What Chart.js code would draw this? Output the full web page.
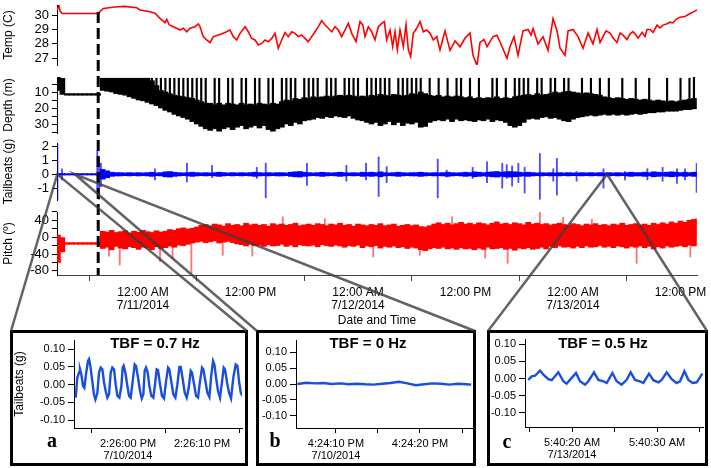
<!DOCTYPE html>
<html>
<head>
<meta charset="utf-8">
<title>Tag record</title>
<script src="https://cdn.jsdelivr.net/npm/chart.js@4.4.1/dist/chart.umd.min.js"></script>
<style>
    body { margin: 0; width: 711px; height: 468px; position: relative; overflow: hidden; background: #fff; font-family: 'Liberation Sans', Arial, sans-serif; }
    canvas { position: absolute; }
    .box { position: absolute; border: 3px solid #000; box-sizing: border-box; }
    .tbf { position: absolute; font-size: 15px; font-weight: bold; transform: translate(-50%, -50%); white-space: nowrap; }
    .tag { position: absolute; font-family: 'Liberation Serif', 'Times New Roman', serif; font-size: 20px; font-weight: bold; transform: translate(-50%, -50%); }
</style>
</head>
<body>
<canvas id="tempChart" width="711" height="70" style="left:0;top:0"></canvas>
<canvas id="depthChart" width="711" height="66" style="left:0;top:72px"></canvas>
<canvas id="tbChart" width="711" height="67" style="left:0;top:138px"></canvas>
<canvas id="pitchChart" width="711" height="123" style="left:0;top:207px"></canvas>

<canvas id="insetA" width="238" height="136" style="left:10px;top:330px"></canvas>
<canvas id="insetB" width="220" height="136" style="left:256px;top:330px"></canvas>
<canvas id="insetC" width="221" height="136" style="left:487px;top:330px"></canvas>
<div class="box" id="boxA" style="left:10px;top:330px;width:238px;height:136px"></div>
<div class="box" id="boxB" style="left:256px;top:330px;width:220px;height:136px"></div>
<div class="box" id="boxC" style="left:487px;top:330px;width:221px;height:136px"></div>
<div class="tbf" style="left:155px;top:342px">TBF = 0.7 Hz</div>
<div class="tbf" style="left:368px;top:342px">TBF = 0 Hz</div>
<div class="tbf" style="left:603px;top:342px">TBF = 0.5 Hz</div>
<div class="tag" style="left:52px;top:440px">a</div>
<div class="tag" style="left:275px;top:440px">b</div>
<div class="tag" style="left:507px;top:441px">c</div>

<canvas id="overlay" width="711" height="468" style="left:0;top:0"></canvas>

<script>
// hours from 12:00 AM 7/11/2014
const xMin = -9.6, xMax = 61.84;
const mainTickHours = [0, 12, 24, 36, 48, 60];
const mainTickLabels = [['12:00 AM', '7/11/2014'], '12:00 PM', ['12:00 AM', '7/12/2014'], '12:00 PM', ['12:00 AM', '7/13/2014'], '12:00 PM'];
const tagOnHour = -5.0;
const tagTemp = 30.2;
const insetHours = [-9.57, -7.6, 51.8];

// temperature (C)
const tempHours = [-9.6, -9.38, -9.27, -9.04, -5.02, -4.43, -3.13, -2.01, -0.7, -0.33, 0.78, 1.34, 1.9, 2.46, 2.65, 2.94, 3.38, 3.76, 4.13, 4.5, 4.88, 5.25, 5.8, 6.17, 6.36, 6.73, 7.11, 7.48, 7.85, 8.41, 8.96, 9.34, 9.71, 10.08, 10.46, 10.83, 11.39, 11.75, 12.13, 12.5, 12.87, 13.25, 13.62, 13.99, 14.37, 14.74, 15.1, 15.48, 15.85, 16.22, 16.6, 16.97, 17.34, 17.72, 18.08, 18.45, 18.83, 19.2, 19.57, 19.95, 20.32, 20.69, 21.07, 21.43, 21.8, 22.18, 22.55, 22.92, 23.3, 23.78, 24.22, 24.53, 24.78, 25.15, 25.53, 25.89, 26.27, 26.65, 26.94, 27.2, 27.57, 27.87, 28.13, 28.39, 28.69, 29.06, 29.36, 29.62, 29.88, 30.17, 30.55, 30.92, 31.29, 31.67, 32.04, 32.41, 32.79, 33.15, 33.71, 34.27, 34.83, 35.39, 35.95, 36.5, 36.84, 37.28, 37.62, 38.07, 38.4, 39.07, 39.52, 40.08, 40.63, 40.97, 41.41, 41.86, 42.42, 42.98, 43.31, 43.54, 44.09, 44.65, 45.21, 45.77, 46.22, 46.55, 47.11, 47.45, 48.0, 48.56, 49.12, 49.68, 50.23, 50.68, 51.02, 51.35, 51.69, 52.13, 52.47, 52.91, 53.25, 53.58, 54.03, 54.37, 54.7, 55.03, 55.26, 55.71, 56.04, 56.26, 56.6, 56.93, 57.38, 57.72, 58.05, 58.5, 58.83, 59.16, 59.5, 59.94, 60.5, 61.06, 61.39, 61.84];
const tempValues = [30.3, 30.7, 30.3, 30.1, 30.1, 30.45, 30.55, 30.6, 30.5, 30.35, 30.23, 30.12, 29.77, 29.47, 29.7, 29.31, 29.19, 29.08, 28.96, 29.08, 28.84, 29.08, 29.19, 29.38, 29.19, 28.5, 28.27, 28.08, 28.5, 28.61, 28.73, 28.84, 28.96, 28.5, 28.27, 28.73, 29.19, 28.84, 28.38, 28.27, 27.92, 28.03, 28.27, 28.15, 28.38, 28.73, 27.69, 28.27, 28.78, 28.5, 28.84, 28.73, 28.5, 28.61, 28.38, 28.15, 28.5, 28.84, 29.19, 29.61, 29.31, 29.08, 28.84, 29.19, 28.96, 28.5, 28.96, 29.42, 28.73, 28.15, 29.54, 29.31, 28.5, 29.19, 28.84, 28.27, 29.19, 29.42, 29.54, 28.27, 28.96, 27.81, 28.84, 27.58, 28.96, 27.81, 29.31, 27.58, 27.11, 28.73, 29.08, 29.54, 28.84, 28.96, 28.73, 28.27, 28.5, 27.58, 28.9, 27.55, 28.2, 27.8, 28.4, 28.75, 27.2, 26.5, 28.1, 28.3, 27.8, 28.5, 28.6, 27.8, 27.0, 27.8, 28.5, 27.2, 28.9, 29.0, 28.6, 29.05, 28.0, 28.5, 27.55, 29.75, 28.9, 27.7, 27.2, 28.9, 29.0, 28.5, 27.7, 28.75, 28.0, 29.0, 28.1, 28.5, 28.9, 28.75, 28.4, 28.1, 28.75, 28.6, 28.3, 28.7, 28.85, 28.6, 28.4, 28.8, 28.5, 29.0, 29.0, 28.8, 29.3, 29.1, 29.3, 29.4, 29.5, 29.45, 29.7, 29.85, 29.9, 30.1, 30.2, 30.35];
const tempTicks = [27, 28, 29, 30];

// depth, pitch and tailbeat ranges, one per half hour from -9.5 h
const bandStart = -9.5, bandStep = 0.5;
const depthTop = [
    0.8, 1.5, 11, 11, 11, 11, 11, 11, 11, 11,
    1.4, 1.4, 1.4, 1.4, 1.4, 1.4, 1.4, 1.4, 1.4, 1.4,
    1.4, 3, 6, 9, 10, 11, 12, 12.5, 13, 13.5,
    14, 15, 16, 17, 17, 18, 17, 18, 17, 17.5,
    18, 17, 18, 17.5, 18, 17, 17.5, 18, 17, 17.5,
    16, 15, 15.5, 14, 14.5, 13.5, 14, 13, 13.5, 13,
    12.5, 13, 12.5, 12, 12.5, 12, 12.5, 13, 12.5, 13,
    12, 12.5, 11.5, 12, 12.5, 11.5, 12, 12.5, 12, 11,
    11.5, 10, 11, 12, 12.5, 12, 13, 12.5, 13, 12.5,
    13, 13.5, 13, 14, 13.5, 14, 13.5, 14, 13, 14,
    13.5, 14, 13, 12.5, 12, 11.5, 12, 11, 12, 11.5,
    11, 10, 10.5, 10, 9.5, 10, 10.5, 11, 10.5, 11,
    11.5, 12, 13, 13.5, 14, 13.5, 14, 14.5, 14, 14.5,
    15, 14.5, 15, 15.5, 15, 15.5, 16, 15.5, 16, 15.5,
    15, 14.5, 14];
const depthBottom = [
    9, 11.5, 12, 12, 12, 12, 12, 12, 12, 12,
    9, 9.5, 10, 11, 11.5, 12, 13, 14, 15, 15.5,
    16.5, 17.5, 18.5, 20, 21.5, 22.5, 24, 25, 26, 27,
    28.5, 30, 31.5, 33, 34, 33, 34.5, 33, 32, 33.5,
    32, 31, 33, 32, 31, 32.5, 31, 33.5, 34.5, 33,
    32, 30, 31, 29, 30, 28, 27.5, 27, 26, 26.5,
    25.5, 26, 25, 25.5, 26, 25, 26.5, 27.5, 28, 29,
    30, 29, 31, 30, 28.5, 30.5, 29, 31, 29.5, 30,
    29, 32, 31.5, 29, 28, 27.5, 28, 27, 28.5, 27,
    28, 27.5, 28, 28.5, 27.5, 28, 27, 28.5, 27.5, 28,
    29, 31, 32, 31, 29, 27, 26.5, 27, 26, 25.5,
    26.5, 26, 27, 28, 28.5, 27, 26, 25.5, 25, 24.5,
    25, 24.5, 24, 24.5, 24, 24.5, 24, 24.5, 24, 23.5,
    24, 23.5, 23, 23, 22.5, 22.5, 22, 22, 22, 21.5,
    21, 21, 20.5];
// shallowest point of quick trips to the surface, null when none
const depthSurface = [
    null, null, null, null, null, null, null, null, null, null,
    null, null, null, null, null, null, null, null, null, null,
    null, 1.4, 1.4, 1.4, 1.4, 1.4, 1.4, 1.4, 1.4, 1.4,
    1.4, 1.4, 1.4, 1.4, null, 1.4, 1.4, null, 1.4, 1.4,
    null, 1.4, 1.4, null, 1.4, 1.4, null, 1.4, 1.4, null,
    1.4, 1.4, 1.4, 1.4, null, 1.4, 1.4, 1.4, 1.4, null,
    1.4, 1.4, 1.4, null, 1.4, 1.4, 1.4, 1.4, null, 1.4,
    1.4, 1.4, 1.4, 1.4, 1.4, null, 1.4, 1.4, 1.4, 1.4,
    1.4, 1.4, null, 1.4, null, 1.4, null, 1.4, null, 1.4,
    1.4, null, 1.4, null, 1.4, null, null, 1.4, 1.4, null,
    1.4, null, 1.4, 1.4, 1.4, 1.4, null, 1.4, 1.4, null,
    1.4, 1.4, null, 1.4, 1.4, null, null, 1.4, null, 1.4,
    null, 1.4, null, 1.4, null, null, 1.4, null, null, 1.4,
    null, null, 1.4, null, null, null, 1.4, null, null, 1.4,
    null, 1.4, 0.8];
const depthTicks = [5, 10, 15, 20, 25, 30, 35];
const depthTickLabels = ['', '10', '', '20', '', '30', ''];

const pitchHigh = [
    5, 0, -13, -13, -13, -13, -13, -13, -13, -13,
    14, 12, 16, 11, 13, 15, 10, 14, 12, 16,
    13, 11, 15, 12, 14, 18, 16, 20, 22, 19,
    21, 24, 28, 30, 27, 31, 29, 26, 32, 28,
    30, 27, 33, 29, 31, 28, 30, 26, 32, 29,
    31, 28, 30, 33, 27, 29, 31, 28, 32, 30,
    27, 31, 29, 33, 28, 30, 26, 31, 29, 27,
    30, 28, 32, 27, 29, 31, 26, 28, 30, 27,
    29, 25, 24, 27, 31, 34, 30, 33, 29, 32,
    35, 31, 33, 30, 34, 32, 29, 33, 36, 31,
    33, 30, 34, 32, 29, 35, 31, 33, 30, 32,
    29, 31, 33, 30, 28, 32, 30, 27, 31, 29,
    32, 28, 30, 27, 31, 29, 33, 28, 30, 32,
    29, 31, 28, 33, 30, 34, 31, 36, 33, 38,
    35, 40, 42];
const pitchLow = [
    -60, -35, -17, -17, -17, -17, -17, -17, -17, -17,
    -27, -24, -30, -22, -26, -28, -23, -25, -29, -24,
    -26, -30, -23, -27, -25, -21, -24, -19, -20, -17,
    -14, -12, -10, -13, -11, -9, -14, -12, -10, -13,
    -16, -18, -21, -17, -20, -19, -22, -18, -21, -20,
    -17, -22, -19, -23, -18, -20, -21, -19, -23, -18,
    -20, -22, -19, -21, -24, -20, -22, -19, -25, -21,
    -23, -20, -26, -22, -24, -21, -25, -23, -27, -24,
    -26, -30, -32, -28, -25, -27, -24, -28, -26, -29,
    -25, -28, -27, -30, -26, -29, -24, -28, -27, -25,
    -29, -27, -31, -26, -28, -25, -29, -27, -24, -28,
    -22, -25, -21, -24, -23, -26, -22, -25, -21, -24,
    -23, -20, -24, -22, -25, -21, -23, -26, -22, -24,
    -21, -25, -22, -28, -23, -26, -21, -24, -22, -20,
    -23, -19, -21];
const pitchSpikeHours = [-3.8, -2.6, 1.9, 3.3, 5.4, 8.9, 12.2, 15.6, 20.3, 25.7, 30.9, 34.5, 38.2, 40.7, 44.3, 46.9, 50.1, 55.1, 61.1, 61.7];
const pitchSpikeValues = [-45, -66, -58, -51, -86, -43, -45, 48, 44, -47, -43, 48, -50, -62, 60, 47, 42, -62, -47, 44];
const pitchTicks = [60, 40, 20, 0, -20, -40, -60, -80];
const pitchTickLabels = ['', '40', '', '0', '', '-40', '', '-80'];

// tailbeat noise half width (g)
const tbNoise = [
    0.05, 0.05, 0.05, 0.05, 0.05, 0.05, 0.05, 0.05, 0.05, 0.05,
    0.35, 0.25, 0.15, 0.12, 0.12, 0.1, 0.12, 0.1, 0.12, 0.1,
    0.12, 0.15, 0.1, 0.12, 0.18, 0.2, 0.15, 0.12, 0.1, 0.12,
    0.15, 0.12, 0.1, 0.12, 0.1, 0.12, 0.15, 0.12, 0.1, 0.12,
    0.1, 0.12, 0.1, 0.12, 0.15, 0.12, 0.1, 0.12, 0.1, 0.12,
    0.12, 0.1, 0.15, 0.18, 0.2, 0.15, 0.12, 0.1, 0.12, 0.15,
    0.12, 0.1, 0.12, 0.15, 0.12, 0.1, 0.12, 0.1, 0.15, 0.12,
    0.15, 0.12, 0.18, 0.12, 0.1, 0.12, 0.15, 0.12, 0.1, 0.12,
    0.12, 0.15, 0.12, 0.1, 0.12, 0.1, 0.12, 0.15, 0.12, 0.1,
    0.12, 0.15, 0.12, 0.18, 0.15, 0.12, 0.15, 0.18, 0.2, 0.15,
    0.18, 0.2, 0.18, 0.15, 0.12, 0.15, 0.12, 0.1, 0.12, 0.1,
    0.12, 0.1, 0.12, 0.1, 0.12, 0.1, 0.1, 0.12, 0.1, 0.12,
    0.1, 0.12, 0.1, 0.12, 0.1, 0.12, 0.1, 0.12, 0.15, 0.12,
    0.12, 0.15, 0.12, 0.18, 0.15, 0.12, 0.15, 0.18, 0.15, 0.12,
    0.15, 0.12, 0.15];
const tbSpikeHours = [-9.55, -9.04, -5.1, -4.9, -4.7, 1.34, 4.9, 7.7, 12.7, 13.7, 18.3, 22.7, 24.9, 26.3, 27.2, 32.9, 33.9, 36.8, 38.4, 40.1, 40.6, 41.2, 41.9, 42.6, 44.3, 45.8, 46.2, 48.4, 51.4, 53.8, 56.3, 58.0, 59.6, 60.5, 61.8];
const tbSpikeUp = [2.2, 0.4, 1.7, 1.2, 0.8, 0.4, 0.8, 0.65, 0.5, 0.8, 0.8, 0.65, 0.8, 1.25, 0.55, 1.1, 0.3, 0.5, 0.9, 0.8, 0.7, 0.6, 0.8, 0.5, 1.5, 0.4, 1.15, 0.2, 0.4, 0.2, 0.4, 0.5, 0.4, 0.4, 0.8];
const tbSpikeDown = [-1.8, -0.4, -1.3, -1.8, -0.9, -0.4, -0.55, -0.25, -0.3, -1.7, -0.8, -0.5, -0.4, -1.6, -0.6, -1.7, -0.2, -0.3, -0.6, -1.0, -0.3, -0.85, -0.6, -1.35, -1.8, -0.5, -1.5, -0.5, -1.0, -0.4, -0.4, -0.5, -0.65, -0.4, -1.3];
const tbTicks = [2, 1, 0, -1];

// zoomed windows, seconds from the labelled time
const insetASec = [-7.07, -6.85, -6.62, -6.49, -6.31, -6.08, -5.9, -5.68, -5.41, -5.27, -5.09, -4.83, -4.6, -4.41, -4.14, -3.92, -3.69, -3.47, -3.24, -3.02, -2.79, -2.57, -2.34, -2.12, -1.89, -1.67, -1.44, -1.17, -0.9, -0.72, -0.59, -0.36, -0.09, 0.14, 0.36, 0.63, 0.9, 1.08, 1.35, 1.62, 1.85, 2.07, 2.25, 2.43, 2.66, 2.88, 3.15, 3.42, 3.65, 3.87, 4.05, 4.32, 4.59, 4.86, 5.14, 5.41, 5.59, 5.86, 6.13, 6.4, 6.67, 6.94, 7.12, 7.39, 7.66, 7.93, 8.2, 8.47, 8.65, 8.92, 9.19, 9.46, 9.73, 10.0, 10.18, 10.45, 10.72, 10.99, 11.26, 11.49, 11.67, 11.89, 12.16, 12.43, 12.66, 12.93, 13.11, 13.38, 13.65, 13.92, 14.23, 14.55, 14.78, 15.0, 15.23, 15.45];
const insetAG = [-0.037, 0.020, 0.034, 0.043, 0.029, -0.004, -0.009, 0.029, 0.067, 0.072, 0.053, 0.010, -0.028, -0.042, -0.023, 0.034, 0.048, 0.043, 0.006, -0.018, -0.037, -0.028, 0.034, 0.048, 0.043, 0.001, -0.032, -0.037, -0.004, 0.048, 0.053, 0.034, -0.004, -0.032, -0.037, 0.010, 0.057, 0.053, 0.020, -0.018, -0.039, -0.028, 0.039, 0.048, 0.034, -0.004, -0.032, -0.037, 0.001, 0.043, 0.041, 0.001, -0.032, -0.039, 0.010, 0.048, 0.043, 0.006, -0.028, -0.037, 0.001, 0.050, 0.050, 0.015, -0.023, -0.037, -0.009, 0.039, 0.034, 0.001, -0.032, -0.037, 0.010, 0.048, 0.043, 0.010, -0.023, -0.035, 0.029, 0.067, 0.057, 0.020, -0.018, -0.037, 0.001, 0.048, 0.043, 0.006, -0.023, -0.039, 0.020, 0.057, 0.053, 0.010, -0.023, -0.032];
const insetBSec = [-4.6, -3.5, -2.5, -1.5, -0.5, 0.5, 1.5, 2.5, 3.5, 4.5, 5.5, 6.5, 7.5, 8.5, 9.5, 10.5, 11.5, 12.5, 13.5, 14.5, 15.5, 16.1];
const insetBG = [0.000, 0.004, 0.002, 0.003, 0.000, 0.002, -0.001, 0.001, -0.001, -0.002, 0.001, 0.003, 0.007, 0.002, -0.004, -0.001, 0.002, 0.001, -0.002, 0.001, -0.001, -0.002];
const insetCSec = [-5.14, -4.75, -4.35, -3.76, -3.37, -2.78, -2.39, -1.61, -1.02, -0.63, -0.24, 0.47, 0.94, 1.53, 1.92, 2.59, 3.10, 3.69, 4.08, 4.75, 5.25, 5.84, 6.43, 6.90, 7.41, 8.0, 8.39, 9.06, 9.57, 10.16, 10.55, 11.14, 11.73, 12.31, 12.71, 13.22, 13.69, 14.2, 14.67, 15.33];
const insetCG = [-0.004, 0.006, 0.008, 0.023, 0.011, -0.002, -0.005, 0.018, -0.008, -0.015, -0.004, 0.016, -0.008, -0.018, -0.008, 0.018, -0.004, -0.008, -0.013, 0.016, -0.008, -0.018, -0.004, 0.018, -0.004, -0.008, -0.013, 0.014, -0.005, -0.011, -0.004, 0.018, -0.002, -0.013, -0.008, 0.021, -0.004, -0.013, -0.011, 0.014];
const insetTicks = [0.10, 0.05, 0, -0.05, -0.10];
const insetTickLabels = ['0.10', '0.05', '0.00', '-0.05', '-0.10'];

Chart.defaults.font.family = "'Liberation Sans', Arial, sans-serif";
Chart.defaults.color = '#000';

const bandHours = depthTop.map((v, i) => bandStart + i * bandStep);

function pairs(xs, ys) {
    return xs.map((x, i) => ({ x: x, y: ys[i] }));
}

function yAxis(min, max, ticks, labels, title, reverse) {
    return {
        min: min, max: max, reverse: !!reverse,
        border: { color: '#000' },
        grid: { drawOnChartArea: false, tickLength: 5, tickColor: '#000' },
        afterBuildTicks: s => { s.ticks = ticks.map(v => ({ value: v })); },
        afterFit: s => { s.width = 57; s.paddingTop = 0; s.paddingBottom = 0; },
        ticks: { callback: (v, i) => labels[i], padding: 3, autoSkip: false, font: { size: 13 } },
        title: { display: true, text: title, font: { size: 12 }, padding: { top: 1, bottom: 0 } }
    };
}

// the four stacked panels share one time axis
function panelOptions(y, showX) {
    return {
        responsive: false,
        animation: false,
        events: [],
        layout: { padding: { top: 5, right: 14, bottom: showX ? 0 : 5, left: 0 } },
        plugins: { legend: { display: false }, tooltip: { enabled: false } },
        scales: {
            x: {
                type: 'linear', min: xMin, max: xMax, offset: false, display: showX,
                border: { color: '#444' },
                grid: { drawOnChartArea: false, tickLength: 6, tickColor: '#444' },
                afterBuildTicks: s => { s.ticks = mainTickHours.map(v => ({ value: v })); },
                afterFit: s => {
                    if (!showX) return;
                    s.height = 55; s.paddingLeft = 0; s.paddingRight = 0;
                },
                ticks: { callback: (v, i) => mainTickLabels[i], maxRotation: 0, autoSkip: false, padding: 5, font: { size: 12, lineHeight: 1.1 } },
                title: { display: true, text: 'Date and Time', font: { size: 12 }, padding: { top: 0, bottom: 2 } }
            },
            y: y
        }
    };
}

function band(lo, hi, color, width) {
    return {
        type: 'bar', grouped: false, barThickness: width, backgroundColor: color,
        data: bandHours.map((h, i) => ({ x: h, y: [lo[i], hi[i]] }))
    };
}

function spikes(hours, lo, hi, color, width) {
    return {
        type: 'bar', grouped: false, barThickness: width, backgroundColor: color,
        data: hours.map((h, i) => ({ x: h, y: [lo[i], hi[i]] }))
    };
}

const tempChart = new Chart(document.getElementById('tempChart'), {
    type: 'line',
    data: {
        datasets: [{ data: pairs(tempHours, tempValues), borderColor: '#ff0000', borderWidth: 1.6, pointRadius: 0, tension: 0 }]
    },
    options: panelOptions(yAxis(26.536, 30.693, tempTicks, tempTicks.map(String), 'Temp (C)'), false)
});

// surface trips drawn as thin bars from the shallowest point down to the band
let surfIdx = bandHours.map((h, i) => i).filter(i => depthSurface[i] !== null);
const depthChart = new Chart(document.getElementById('depthChart'), {
    type: 'line',
    data: {
        datasets: [
            band(depthTop, depthBottom, '#000', 5),
            spikes(surfIdx.map(i => bandHours[i]), surfIdx.map(i => depthSurface[i]), surfIdx.map(i => depthTop[i]), '#000', 1.5)
        ]
    },
    options: panelOptions(yAxis(0.625, 35.625, depthTicks, depthTickLabels, 'Depth (m)', true), false)
});

const tbChart = new Chart(document.getElementById('tbChart'), {
    type: 'line',
    data: {
        datasets: [
            band(tbNoise.map(v => -v), tbNoise, '#0000ff', 5),
            spikes(tbSpikeHours, tbSpikeDown, tbSpikeUp, 'rgba(0,0,255,0.7)', 1.2)
        ]
    },
    options: panelOptions(yAxis(-1.856, 2.26, tbTicks, tbTicks.map(String), 'Tailbeats (g)'), false)
});

const pitchChart = new Chart(document.getElementById('pitchChart'), {
    type: 'line',
    data: {
        datasets: [
            band(pitchLow, pitchHigh, '#ff0000', 5),
            spikes(pitchSpikeHours, pitchSpikeHours.map(() => 0), pitchSpikeValues, 'rgba(255,0,0,0.55)', 1.2)
        ]
    },
    options: panelOptions(yAxis(-89.7, 59.5, pitchTicks, pitchTickLabels, 'Pitch (º)'), true)
});

function insetChart(id, secs, vals, o) {
    return new Chart(document.getElementById(id), {
        type: 'line',
        data: {
            datasets: [{ data: pairs(secs, vals), borderColor: '#1a4fdc', borderWidth: 2.4, pointRadius: 0, tension: 0 }]
        },
        options: {
            responsive: false,
            animation: false,
            events: [],
            layout: { padding: { top: o.top, right: o.right, bottom: 0, left: 0 } },
            plugins: { legend: { display: false }, tooltip: { enabled: false } },
            scales: {
                x: {
                    type: 'linear', min: o.xMin, max: o.xMax,
                    border: { color: '#000' },
                    grid: { drawOnChartArea: false, tickLength: 5, tickColor: '#000' },
                    afterBuildTicks: s => { s.ticks = o.ticks.map(v => ({ value: v })); },
                    afterFit: s => { s.height = o.xHeight; s.paddingLeft = 0; s.paddingRight = 0; },
                    ticks: { callback: (v, i) => o.labels[i], labelOffset: o.labelOffset || 0, padding: 5, maxRotation: 0, autoSkip: false, font: { size: 11, lineHeight: 1.1 } }
                },
                y: {
                    min: o.yMin, max: o.yMax,
                    border: { color: '#000' },
                    grid: { drawOnChartArea: false, tickLength: 6, tickColor: '#000' },
                    afterBuildTicks: s => { s.ticks = insetTicks.map(v => ({ value: v })); },
                    afterFit: s => { s.width = o.yWidth; s.paddingTop = 0; s.paddingBottom = 0; },
                    ticks: { callback: (v, i) => insetTickLabels[i], padding: 3, autoSkip: false, font: { size: 11 } },
                    title: { display: !!o.title, text: o.title || '', font: { size: 12 }, padding: { top: 2, bottom: 0 } }
                }
            }
        }
    });
}

insetChart('insetA', insetASec, insetAG, {
    top: 10, right: 6, xMin: -7.3, xMax: 15.4, xHeight: 38, yWidth: 64, yMin: -0.1226, yMax: 0.126,
    ticks: [-5, 5, 15], labels: [['2:26:00 PM', '7/10/2014'], '2:26:10 PM', ''], labelOffset: 37, title: 'Tailbeats (g)'
});
insetChart('insetB', insetBSec, insetBG, {
    top: 10, right: 4, xMin: -4.76, xMax: 16.19, xHeight: 38, yWidth: 40, yMin: -0.1388, yMax: 0.1388,
    ticks: [0, 5, 10, 15], labels: [['4:24:10 PM', '7/10/2014'], '', '4:24:20 PM', '']
});
insetChart('insetC', insetCSec, insetCG, {
    top: 9, right: 5, xMin: -5.53, xMax: 15.41, xHeight: 39, yWidth: 38, yMin: -0.1406, yMax: 0.1145,
    ticks: [-5, 0, 5, 10, 15], labels: ['', ['5:40:20 AM', '7/13/2014'], '', '5:40:30 AM', '']
});

// dashed line at tag deployment, then the connectors to the zoomed windows
const ctx = document.getElementById('overlay').getContext('2d');
let dashX = tempChart.canvas.offsetLeft + tempChart.scales.x.getPixelForValue(tagOnHour);
let dashTop = tempChart.canvas.offsetTop + tempChart.scales.y.getPixelForValue(tagTemp);
let dashBottom = pitchChart.canvas.offsetTop + pitchChart.chartArea.bottom;
ctx.strokeStyle = '#000';
ctx.lineWidth = 3;
ctx.setLineDash([11, 5]);
ctx.beginPath();
ctx.moveTo(dashX, dashTop);
ctx.lineTo(dashX, dashBottom);
ctx.stroke();
ctx.setLineDash([]);

ctx.strokeStyle = 'rgba(60,60,60,0.8)';
ctx.lineWidth = 2.5;
['boxA', 'boxB', 'boxC'].forEach((id, i) => {
    let box = document.getElementById(id);
    let x0 = tbChart.canvas.offsetLeft + tbChart.scales.x.getPixelForValue(insetHours[i]);
    let y0 = tbChart.canvas.offsetTop + tbChart.scales.y.getPixelForValue(0);
    ctx.beginPath();
    ctx.moveTo(box.offsetLeft + 1, box.offsetTop + 1);
    ctx.lineTo(x0, y0);
    ctx.lineTo(box.offsetLeft + box.offsetWidth - 1, box.offsetTop + 1);
    ctx.stroke();
});
</script>
</body>
</html>
